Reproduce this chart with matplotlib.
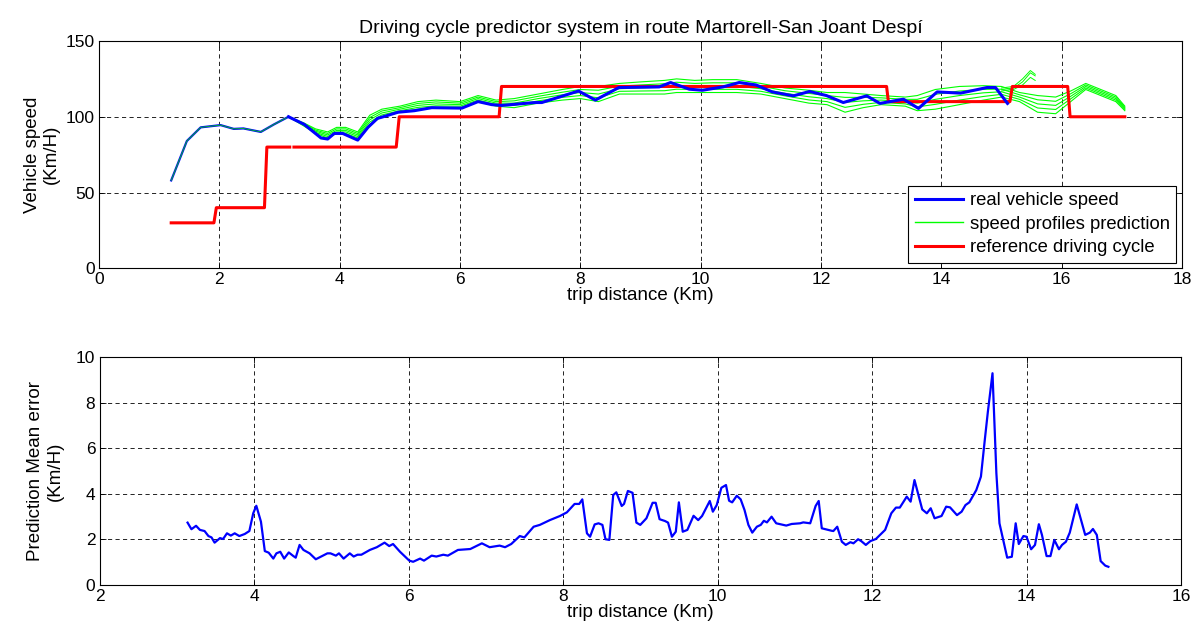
import numpy as np
import matplotlib
matplotlib.use("Agg")
import matplotlib.pyplot as plt

plt.rcParams['font.family'] = ['Liberation Sans', 'DejaVu Sans']

# --- datos: velocidad real (km, km/h) ---
early_x = [1.20, 1.46, 1.69, 2.02, 2.24, 2.40, 2.69, 2.91, 3.15]
early_y = [58, 84, 93, 94.5, 92, 92.3, 90, 95, 100]

speed_x = [3.15, 3.41, 3.69, 3.80, 3.91, 4.05, 4.30, 4.47, 4.63, 4.69, 4.97, 5.24,
           5.53, 6.03, 6.30, 6.53, 6.69, 7.25, 7.36, 7.97, 8.25, 8.64, 9.31, 9.50,
           9.81, 10.03, 10.37, 10.64, 10.92, 11.19, 11.54, 11.81, 12.09, 12.37,
           12.76, 12.98, 13.37, 13.62, 13.93, 14.32, 14.76, 14.90, 15.10]
speed_y = [100, 95, 86, 85.3, 89, 89, 84.6, 93, 99, 99.6, 103, 104,
           106, 105.7, 110, 108, 107.5, 109.4, 109.4, 117, 111, 119.3, 119.7, 122.6,
           118.2, 117.5, 119.7, 122.6, 121, 116.4, 113.8, 116.7, 114, 109.4,
           113.8, 108.8, 111.6, 105.5, 116.4, 115.6, 119.3, 119.3, 108.8]

# --- perfiles de prediccion (envolvente superior, intermedios, inferior) ---
pred_x = [3.15, 3.4, 3.6, 3.8, 3.95, 4.1, 4.3, 4.5, 4.7, 5.0, 5.3, 5.6, 6.0, 6.3,
          6.6, 6.9, 7.3, 7.7, 8.0, 8.3, 8.65, 9.0, 9.4, 9.6, 9.9, 10.2, 10.6, 11.0,
          11.4, 11.8, 12.1, 12.4, 12.7, 13.0, 13.4, 13.6, 13.9, 14.3, 14.7, 15.0,
          15.3, 15.6, 15.9, 16.15, 16.4, 16.65, 16.9, 17.05]
pred_a = [100, 96, 92, 90, 93, 93, 90, 101, 105, 107, 110, 111, 110, 114,
          111, 112, 115, 118, 120, 120, 122, 123, 124, 125, 124, 124.5, 124.5, 122,
          119, 117.5, 116, 116, 115, 114, 113, 114, 118, 120, 120.5, 120,
          116, 114, 113, 117, 122, 118, 114, 107]
pred_b = [100, 95.5, 91.2, 89, 92, 92, 89, 99.5, 103.8, 106, 108.8, 109.8, 109, 113,
          110, 110.5, 113.5, 116.2, 118, 117.5, 120.2, 121, 121.8, 122.8, 122, 122.4, 122.4, 120.2,
          117.2, 115.4, 114, 112.8, 112.8, 112.5, 111.5, 111.5, 114.8, 117, 118.1, 118.2,
          114.5, 111.2, 110.2, 115.2, 121, 117, 113, 106.2]
pred_c = [100, 95, 90.5, 88, 91, 91, 88, 98, 102.5, 105, 107.5, 108.5, 108, 112,
          109, 109, 112, 114.5, 116, 115, 118.5, 119, 119.5, 120.5, 120, 120.2, 120.2, 118.5,
          115.5, 113.2, 112, 109.5, 110.5, 111, 110, 109, 111.5, 114, 115.8, 116.5,
          113, 108.5, 107.5, 113.5, 120, 116, 112, 105.5]
pred_d = [100, 94.5, 89.7, 87, 90, 90, 87, 96.5, 101.2, 104, 106.2, 107.2, 107, 111,
          108, 107.5, 110.5, 112.8, 114, 112.5, 116.8, 117, 117.2, 118.2, 118, 118.1, 118.1, 116.8,
          113.8, 111.1, 110, 106.2, 108.2, 109.5, 108.5, 106.5, 108.2, 111, 113.4, 114.8,
          111.5, 105.8, 104.8, 111.8, 119, 115, 111, 104.8]
pred_e = [100, 94, 89, 86, 89, 89, 86, 95, 100, 103, 105, 106, 106, 110,
          107, 106, 109, 111, 112, 110, 115, 115, 115, 116, 116, 116, 116, 115,
          112, 109, 108, 103, 106, 108, 107, 104, 105, 108, 111, 113,
          110, 103, 102, 110, 118, 114, 110, 104]

# perfiles cortos que se disparan cerca de 15.5 km
spike_x = [15.0, 15.2, 15.35, 15.48, 15.56]
spike_a = [118, 119, 123, 129, 127]
spike_b = [117, 118, 121, 126, 124]
spike_c = [119, 120, 125, 130.5, 128]

# ciclo de referencia (NaN = hueco)
ref_x = [1.2, 1.91, 1.95, 2.75, 2.79, 3.17, np.nan, 3.24, 4.94, 4.99, 6.65, 6.69,
         13.09, 13.12, 15.14, 15.18, 16.10, 16.14, 17.05]
ref_y = [30, 30, 40, 40, 80, 80, np.nan, 80, 80, 100, 100, 120,
         120, 110, 110, 120, 120, 100, 100]

# --- error medio de prediccion ---
err_x = [3.14, 3.19, 3.25, 3.30, 3.36, 3.41, 3.45, 3.49, 3.56, 3.60, 3.65, 3.70, 3.75,
         3.81, 3.88, 3.94, 3.99, 4.03, 4.09, 4.14, 4.19, 4.25, 4.29, 4.34, 4.39, 4.45,
         4.51, 4.54, 4.59, 4.64, 4.72, 4.80, 4.88, 4.95, 4.99, 5.06, 5.10, 5.16, 5.24,
         5.29, 5.34, 5.39, 5.50, 5.59, 5.69, 5.75, 5.80, 5.89, 6.01, 6.06, 6.15, 6.20,
         6.30, 6.36, 6.45, 6.51, 6.64, 6.80, 6.95, 7.05, 7.18, 7.25, 7.33, 7.44, 7.50,
         7.62, 7.70, 7.83, 7.96, 8.05, 8.15, 8.21, 8.25, 8.31, 8.35, 8.41, 8.46, 8.51,
         8.55, 8.60, 8.65, 8.69, 8.76, 8.79, 8.84, 8.90, 8.95, 9.00, 9.08, 9.16, 9.20,
         9.25, 9.32, 9.36, 9.41, 9.46, 9.50, 9.55, 9.61, 9.69, 9.75, 9.80, 9.90, 9.94,
         9.99, 10.05, 10.11, 10.15, 10.19, 10.25, 10.30, 10.35, 10.40, 10.45, 10.51,
         10.56, 10.60, 10.64, 10.70, 10.76, 10.89, 10.96, 11.07, 11.11, 11.20, 11.27,
         11.31, 11.35, 11.48, 11.50, 11.55, 11.61, 11.66, 11.72, 11.76, 11.82, 11.86,
         11.92, 11.98, 12.05, 12.17, 12.25, 12.31, 12.36, 12.45, 12.50, 12.55, 12.65,
         12.71, 12.76, 12.81, 12.90, 12.96, 13.01, 13.10, 13.16, 13.21, 13.26, 13.35,
         13.41, 13.46, 13.50, 13.56, 13.61, 13.65, 13.75, 13.81, 13.86, 13.90, 13.96,
         14.00, 14.06, 14.11, 14.16, 14.20, 14.26, 14.31, 14.36, 14.42, 14.46, 14.51,
         14.56, 14.65, 14.76, 14.82, 14.86, 14.91, 14.96, 15.02, 15.06]
err_y = [2.74, 2.45, 2.60, 2.42, 2.37, 2.15, 2.09, 1.86, 2.06, 2.02, 2.27, 2.17, 2.27,
         2.15, 2.24, 2.37, 3.15, 3.48, 2.78, 1.49, 1.42, 1.16, 1.39, 1.46, 1.16, 1.43,
         1.27, 1.20, 1.76, 1.54, 1.39, 1.13, 1.27, 1.39, 1.39, 1.29, 1.39, 1.16, 1.39,
         1.25, 1.33, 1.33, 1.54, 1.66, 1.86, 1.71, 1.80, 1.46, 1.07, 1.02, 1.16, 1.07,
         1.29, 1.25, 1.33, 1.29, 1.54, 1.58, 1.83, 1.66, 1.73, 1.66, 1.80, 2.15, 2.09,
         2.56, 2.64, 2.85, 3.03, 3.19, 3.56, 3.56, 3.76, 2.27, 2.12, 2.66, 2.71, 2.64,
         2.01, 1.98, 3.95, 4.07, 3.47, 3.56, 4.13, 4.05, 2.74, 2.64, 2.93, 3.61, 3.61,
         2.89, 2.81, 2.74, 2.12, 2.34, 3.63, 2.34, 2.42, 3.04, 2.85, 3.03, 3.69, 3.22,
         3.51, 4.27, 4.39, 3.70, 3.63, 3.92, 3.76, 3.29, 2.64, 2.30, 2.56,
         2.64, 2.82, 2.75, 3.00, 2.71, 2.61, 2.68, 2.71, 2.75, 2.71, 3.47,
         3.69, 2.49, 2.38, 2.37, 2.56, 1.90, 1.76, 1.88, 1.83, 2.01, 1.93,
         1.76, 1.93, 2.02, 2.42, 3.15, 3.40, 3.40, 3.88, 3.66, 4.61, 3.32,
         3.15, 3.37, 2.93, 3.03, 3.44, 3.41, 3.07, 3.22, 3.51, 3.63, 4.17,
         4.76, 6.37, 7.61, 9.30, 4.91, 2.71, 1.20, 1.24, 2.71, 1.80, 2.15,
         2.12, 1.57, 1.76, 2.67, 2.20, 1.27, 1.27, 1.98, 1.57, 1.76, 1.90,
         2.30, 3.54, 2.20, 2.30, 2.46, 2.20, 1.05, 0.85, 0.80]

fig = plt.figure(figsize=(11.98, 6.41), dpi=100)
ax1 = fig.add_axes([99 / 1198, 1 - 268.3 / 641, (1182 - 99) / 1198, (268.3 - 41) / 641])
ax2 = fig.add_axes([99.5 / 1198, 1 - 585 / 641, (1181 - 99.5) / 1198, (585 - 357.3) / 641])

fs = 12.5
lfs = 13.5

# grafico superior
ax1.plot(early_x, early_y, color='blue', lw=1.6)
ax1.plot(early_x, early_y, color='#00e000', lw=0.7, alpha=0.8)
for prof in [pred_a, pred_b, pred_c, pred_d, pred_e]:
    ax1.plot(pred_x, prof, color='#00ff00', lw=0.8)
for prof in [spike_a, spike_b, spike_c]:
    ax1.plot(spike_x, prof, color='#00ff00', lw=0.7)
ax1.plot(ref_x, ref_y, color='red', lw=2.2)
ax1.plot(speed_x, speed_y, color='blue', lw=2.2)

# legenda con lineas "proxy"
h1, = ax1.plot([], [], color='blue', lw=2.2, label='real vehicle speed')
h2, = ax1.plot([], [], color='#00ff00', lw=1.0, label='speed profiles prediction')
h3, = ax1.plot([], [], color='red', lw=2.2, label='reference driving cycle')
leg = ax1.legend(handles=[h1, h2, h3], loc='lower right', fontsize=13.3,
                 frameon=True, fancybox=False, edgecolor='black', framealpha=1,
                 borderpad=0.35, labelspacing=0.35, handlelength=2.6,
                 handletextpad=0.4, borderaxespad=0.3)
leg.get_frame().set_linewidth(0.8)

ax1.set_xlim(0, 18)
ax1.set_ylim(0, 150)
ax1.set_xticks(range(0, 19, 2))
ax1.set_yticks([0, 50, 100, 150])
ax1.set_xlabel('trip distance (Km)', fontsize=lfs, labelpad=0)
ax1.set_ylabel('Vehicle speed\n(Km/H)', fontsize=lfs, labelpad=4)
ax1.set_title('Driving cycle predictor system in route Martorell-San Joant Despí',
              fontsize=14, pad=6)

# grafico inferior
ax2.plot(err_x, err_y, color='blue', lw=1.6)
ax2.set_xlim(2, 16)
ax2.set_ylim(0, 10)
ax2.set_xticks(range(2, 17, 2))
ax2.set_yticks(range(0, 11, 2))
ax2.set_xlabel('trip distance (Km)', fontsize=lfs, labelpad=0)
ax2.set_ylabel('Prediction Mean error\n(Km/H)', fontsize=lfs, labelpad=9)

for ax in (ax1, ax2):
    ax.grid(True, color='black', linestyle=(0, (5, 4)), linewidth=0.6)
    ax.tick_params(direction='in', length=4, width=0.6, labelsize=fs,
                   top=True, right=True, pad=3)
    for s in ax.spines.values():
        s.set_linewidth(0.8)

fig.savefig('out.png', dpi=100)
